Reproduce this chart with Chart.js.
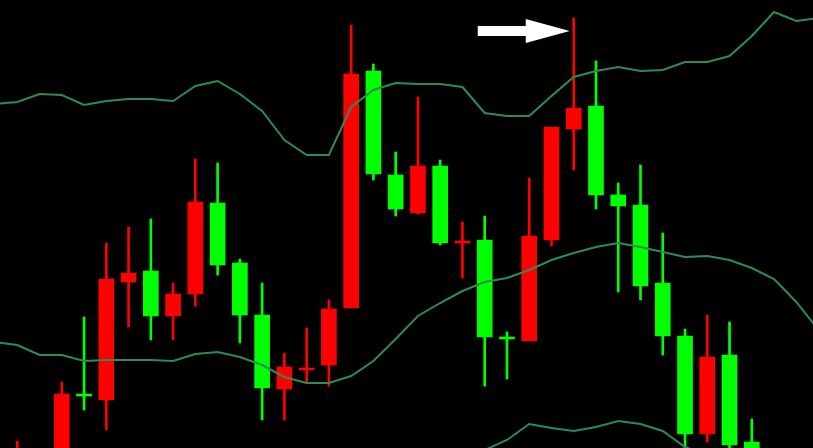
<!DOCTYPE html>
<html>
<head>
  <title>Candles</title>
  <script src="https://cdn.jsdelivr.net/npm/chart.js"></script>
  <style>
    html, body { margin: 0; padding: 0; background: #000; }
    #wrap { width: 813px; height: 448px; }
  </style>
</head>
<body>
  <div id="wrap"><canvas id="candleChart"></canvas></div>
  <script>
    // OHLC per bar (index 0 = leftmost bar)
    const opens  = [32, 45, 32, 105, 100, 218, 229, 184, 206, 297, 237, 185, 111, 130, 135, 192, 429, 325, 287, 334, 257, 260, 162, 159, 260, 371, 394, 305, 295, 217, 164, 66, 145, 58];
    const highs  = [59, 48, 118, 183, 257, 273, 281, 217, 341, 337, 241, 217, 147, 172, 200, 475, 436, 348, 403, 340, 278, 284, 168, 322, 373, 482, 439, 317, 335, 267, 171, 185, 178, 81];
    const lows   = [24, 18, 25, 90, 70, 173, 160, 160, 194, 225, 157, 80, 80, 117, 114, 192, 320, 284, 286, 255, 222, 114, 121, 159, 254, 330, 291, 208, 200, 145, 40, 58, 35, 20];
    const closes = [51, 30, 106, 104, 221, 227, 184, 206, 298, 235, 185, 112, 133, 132, 191, 426, 326, 291, 334, 257, 258, 163, 161, 264, 373, 392, 305, 294, 214, 164, 66, 143, 55, 30];

    // Bollinger bands, bar index -1 .. 36
    const bandUpper  = [396, 398, 406, 405, 395, 399, 401, 401, 399, 414, 419, 406, 389, 360, 345, 345, 393, 410, 417, 416, 416, 413, 387, 384, 384, 404, 423, 429, 433, 429, 430, 438, 438, 444, 464, 488, 479, 482];
    const bandMiddle = [158, 155, 145, 145, 139, 140, 140, 140, 139, 146, 148, 143, 135, 123, 117, 117, 124, 139, 161, 184, 197, 209, 218, 222, 230, 240, 247, 253, 257, 253, 248, 243, 244, 240, 232, 221, 198, 170];
    const bandLower  = [null, null, null, null, null, null, null, null, null, null, null, null, null, null, null, null, null, null, null, null, -20, 8, 50, 60, 76, 72, 69, 73, 79, 76, 69, 53, 45, 34, null, null, null, null];

    const arrowBar = 25;

    const upColor = '#ff0000';
    const downColor = '#00ff00';
    const bandColor = '#2e8b57';

    const candleColors = opens.map((o, i) => closes[i] >= o ? upColor : downColor);
    const bodies = opens.map((o, i) => ({ x: i, y: [o, closes[i]] }));
    const wicks = lows.map((l, i) => ({ x: i, y: [l, highs[i]] }));
    const band = arr => arr.map((v, k) => ({ x: k - 1, y: v }));

    const arrowPlugin = {
      id: 'arrow',
      afterDatasetsDraw(chart) {
        const ctx = chart.ctx;
        const tipX = chart.scales.x.getPixelForValue(arrowBar) - 4;
        const tipY = chart.scales.y.getPixelForValue(highs[arrowBar]) + 13;
        ctx.save();
        ctx.fillStyle = '#ffffff';
        ctx.beginPath();
        ctx.moveTo(tipX - 92, tipY - 5);
        ctx.lineTo(tipX - 44, tipY - 5);
        ctx.lineTo(tipX - 44, tipY - 12);
        ctx.lineTo(tipX, tipY);
        ctx.lineTo(tipX - 44, tipY + 12);
        ctx.lineTo(tipX - 44, tipY + 5);
        ctx.lineTo(tipX - 92, tipY + 5);
        ctx.closePath();
        ctx.fill();
        ctx.restore();
      }
    };

    const bandSet = (data) => ({
      type: 'line', data, borderColor: bandColor, borderWidth: 2,
      pointRadius: 0, tension: 0, fill: false, order: 0
    });

    new Chart(document.getElementById('candleChart'), {
      type: 'bar',
      data: {
        datasets: [
          bandSet(band(bandUpper)),
          bandSet(band(bandMiddle)),
          bandSet(band(bandLower)),
          { data: bodies, backgroundColor: candleColors, barThickness: 15, minBarLength: 2, grouped: false, borderWidth: 0, order: 1 },
          { data: wicks, backgroundColor: candleColors, barThickness: 2, grouped: false, borderWidth: 0, order: 2 }
        ]
      },
      options: {
        responsive: true,
        maintainAspectRatio: false,
        animation: false,
        layout: { padding: 0 },
        plugins: { legend: { display: false }, tooltip: { enabled: false } },
        scales: {
          x: { type: 'linear', min: -0.777, max: 35.75, display: false, offset: false },
          y: { min: 52, max: 500, display: false }
        }
      },
      plugins: [arrowPlugin, {
        id: 'bg',
        beforeDraw(chart) {
          chart.ctx.save();
          chart.ctx.fillStyle = '#000';
          chart.ctx.fillRect(0, 0, chart.width, chart.height);
          chart.ctx.restore();
        }
      }]
    });
  </script>
</body>
</html>
